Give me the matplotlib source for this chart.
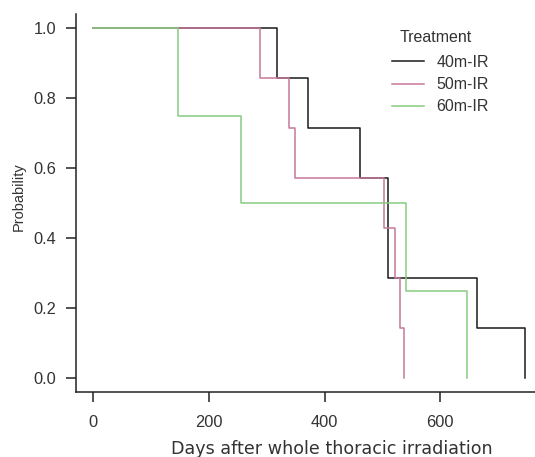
import matplotlib
matplotlib.use('Agg')
import matplotlib.pyplot as plt

plt.rcParams['font.family'] = ['Liberation Sans', 'DejaVu Sans']

# Kaplan-Meier steps
days_40 = [0, 318, 371, 461, 510, 663, 747]
surv_40 = [1.0, 0.857, 0.714, 0.571, 0.286, 0.143, 0.0]
days_50 = [0, 289, 338, 348, 502, 522, 530, 537]
surv_50 = [1.0, 0.857, 0.714, 0.571, 0.429, 0.286, 0.143, 0.0]
days_60 = [0, 147, 256, 540, 646]
surv_60 = [1.0, 0.75, 0.5, 0.25, 0.0]

groups = ['40m-IR', '50m-IR', '60m-IR']
colors = ['#1a1a1a', '#c7789a', '#86cc80']
x_ticks = [0, 200, 400, 600]
y_ticks = [0.0, 0.2, 0.4, 0.6, 0.8, 1.0]

W, H = 535, 457
fig = plt.figure(figsize=(W/100, H/100), dpi=100)
ax = fig.add_axes([76/W, 1-392.3/H, 466.5/W, 378/H])

for d, s, c, g in zip([days_40, days_50, days_60], [surv_40, surv_50, surv_60], colors, groups):
    ax.step(d, s, where='post', color=c, lw=1.1, label=g)

ax.set_xlim(-29.9, 776.9)
ax.set_ylim(-0.04, 1.04)
ax.set_xticks(x_ticks)
ax.set_yticks(y_ticks)
ax.set_yticklabels([f"{v:.1f}" for v in y_ticks])
ax.spines['top'].set_visible(False)
ax.spines['right'].set_visible(False)
for sp in ['left', 'bottom']:
    ax.spines[sp].set_linewidth(1.1)
    ax.spines[sp].set_color('#222222')
ax.tick_params(direction='out', length=7, width=1.1, color='#222222', labelcolor='#333333', labelsize=11.8)
ax.tick_params(axis='y', pad=7)
ax.tick_params(axis='x', pad=9)

fig.text(18.5/W, 1-197/H, 'Probability', fontsize=10.5, rotation=90,
         ha='center', va='center', color='#333333')
fig.text(331.7/W, 1-454/H, 'Days after whole thoracic irradiation', family='DejaVu Sans',
         fontsize=12.6, ha='center', va='baseline', color='#333333')

# legend title placed on its own, R-style gap above the entries
fig.text(436/W, 1-38/H, 'Treatment', fontsize=11.5, ha='center', va='center', color='#333333')
leg = ax.legend(loc='upper left', bbox_to_anchor=(392/W, 1-55/H),
                bbox_transform=fig.transFigure, frameon=False, fontsize=11.5,
                handlelength=2.0, handletextpad=0.8, labelspacing=0.45, borderpad=0, borderaxespad=0)
for t in leg.get_texts():
    t.set_color('#333333')

fig.savefig('out.png', dpi=100)
